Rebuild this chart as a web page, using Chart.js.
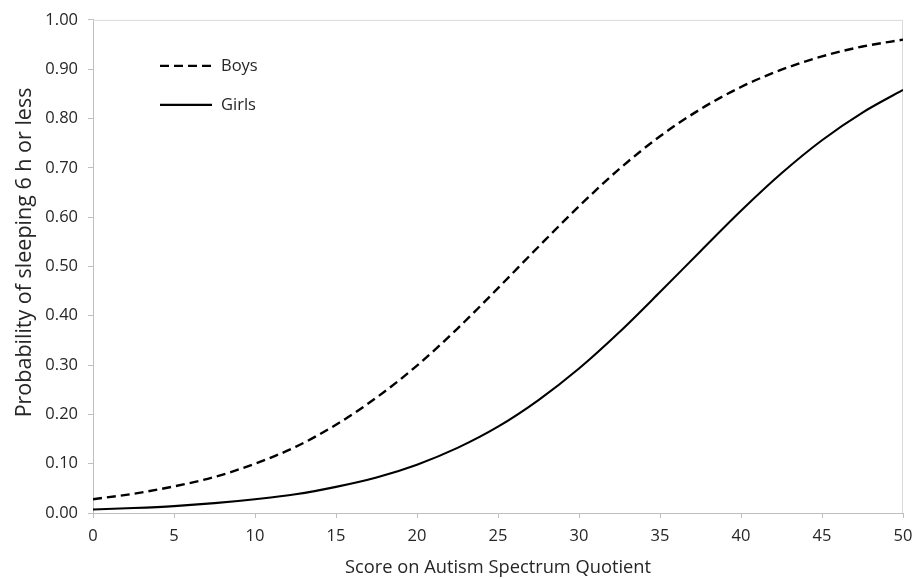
<!DOCTYPE html>
<html>
<head>
<meta charset="utf-8">
<script src="https://cdn.jsdelivr.net/npm/chart.js@4/dist/chart.umd.min.js"></script>
<style>
  html, body { margin: 0; padding: 0; background: #fff; }
  #wrap { width: 914px; height: 579px; position: relative; }
</style>
</head>
<body>
<div id="wrap"><canvas id="chart"></canvas></div>
<script>
// AQ score (x) and predicted probability
const scores = [0, 2.5, 5, 7.5, 10, 12.5, 15, 17.5, 20, 22.5, 25, 27.5, 30, 32.5, 35, 37.5, 40, 42.5, 45, 47.5, 50];
const boys   = [0.028, 0.039, 0.054, 0.073, 0.100, 0.134, 0.179, 0.234, 0.299, 0.374, 0.456, 0.540, 0.622, 0.698, 0.764, 0.819, 0.864, 0.899, 0.926, 0.946, 0.960];
const girls  = [0.007, 0.010, 0.014, 0.020, 0.028, 0.038, 0.053, 0.072, 0.098, 0.132, 0.175, 0.229, 0.293, 0.367, 0.448, 0.531, 0.613, 0.689, 0.756, 0.812, 0.858];
const seriesNames = ['Boys', 'Girls'];
const xTitle = 'Score on Autism Spectrum Quotient';
const yTitle = 'Probability of sleeping 6 h or less';

const FONT = "'Open Sans', Lato, sans-serif";
const TEXT = '#262626';

// legend drawn inside the plot, top-left
const insideLegend = {
    id: 'insideLegend',
    afterDatasetsDraw(chart) {
        const { ctx, chartArea } = chart;
        const x0 = chartArea.left + 67, x1 = chartArea.left + 119;
        ctx.save();
        chart.data.datasets.forEach((ds, i) => {
            const y = chartArea.top + 46 + i * 39;
            ctx.beginPath();
            ctx.setLineDash(ds.borderDash || []);
            ctx.lineWidth = ds.borderWidth;
            ctx.strokeStyle = ds.borderColor;
            ctx.moveTo(x0, y);
            ctx.lineTo(x1, y);
            ctx.stroke();
            ctx.setLineDash([]);
            ctx.fillStyle = TEXT;
            ctx.font = '16.5px ' + FONT;
            ctx.textBaseline = 'middle';
            ctx.fillText(ds.label, x1 + 9, y);
        });
        ctx.restore();
    }
};

// light frame on top and right of the plot area
const frame = {
    id: 'frame',
    beforeDatasetsDraw(chart) {
        const { ctx, chartArea: a } = chart;
        ctx.save();
        ctx.strokeStyle = '#d9d9d9';
        ctx.lineWidth = 1;
        ctx.beginPath();
        ctx.moveTo(a.left, a.top + 0.5);
        ctx.lineTo(a.right - 0.5, a.top + 0.5);
        ctx.lineTo(a.right - 0.5, a.bottom);
        ctx.stroke();
        ctx.restore();
    }
};

const ctx = document.getElementById('chart').getContext('2d');
new Chart(ctx, {
    type: 'line',
    data: {
        datasets: [
            {
                label: seriesNames[0],
                data: scores.map((s, i) => ({ x: s, y: boys[i] })),
                borderColor: '#000',
                borderWidth: 2.4,
                borderDash: [9, 5],
                pointRadius: 0,
                cubicInterpolationMode: 'monotone',
                fill: false,
            },
            {
                label: seriesNames[1],
                data: scores.map((s, i) => ({ x: s, y: girls[i] })),
                borderColor: '#000',
                borderWidth: 2.1,
                pointRadius: 0,
                cubicInterpolationMode: 'monotone',
                fill: false,
            },
        ],
    },
    options: {
        responsive: true,
        maintainAspectRatio: false,
        animation: false,
        layout: { padding: { top: 16, right: 11, left: 0, bottom: 0 } },
        plugins: {
            legend: { display: false },
            tooltip: { enabled: false },
        },
        scales: {
            x: {
                type: 'linear',
                min: 0, max: 50,
                afterFit: s => { s.height = 66; s.paddingRight = 0; s.paddingLeft = 0; },
                grid: { display: true, drawOnChartArea: false, drawTicks: true, tickLength: 5, color: '#bfbfbf' },
                border: { color: '#bfbfbf' },
                ticks: { stepSize: 5, color: TEXT, padding: 8, font: { family: FONT, size: 16.5 } },
                title: { display: true, text: xTitle, color: TEXT, font: { family: FONT, size: 18.3 }, padding: { top: 0, bottom: 0 } },
            },
            y: {
                min: 0, max: 1,
                afterFit: s => { s.width = 93; },
                grid: { display: true, drawOnChartArea: false, drawTicks: true, tickLength: 5, color: '#bfbfbf' },
                border: { color: '#bfbfbf' },
                ticks: {
                    stepSize: 0.1, color: TEXT, padding: 10,
                    font: { family: FONT, size: 16.5 },
                    callback: v => v.toFixed(2),
                },
                title: { display: true, text: '     ' + yTitle, color: TEXT, font: { family: FONT, size: 21.5 }, padding: { top: 12, bottom: 0 } },
            },
        },
    },
    plugins: [frame, insideLegend],
});
</script>
</body>
</html>
